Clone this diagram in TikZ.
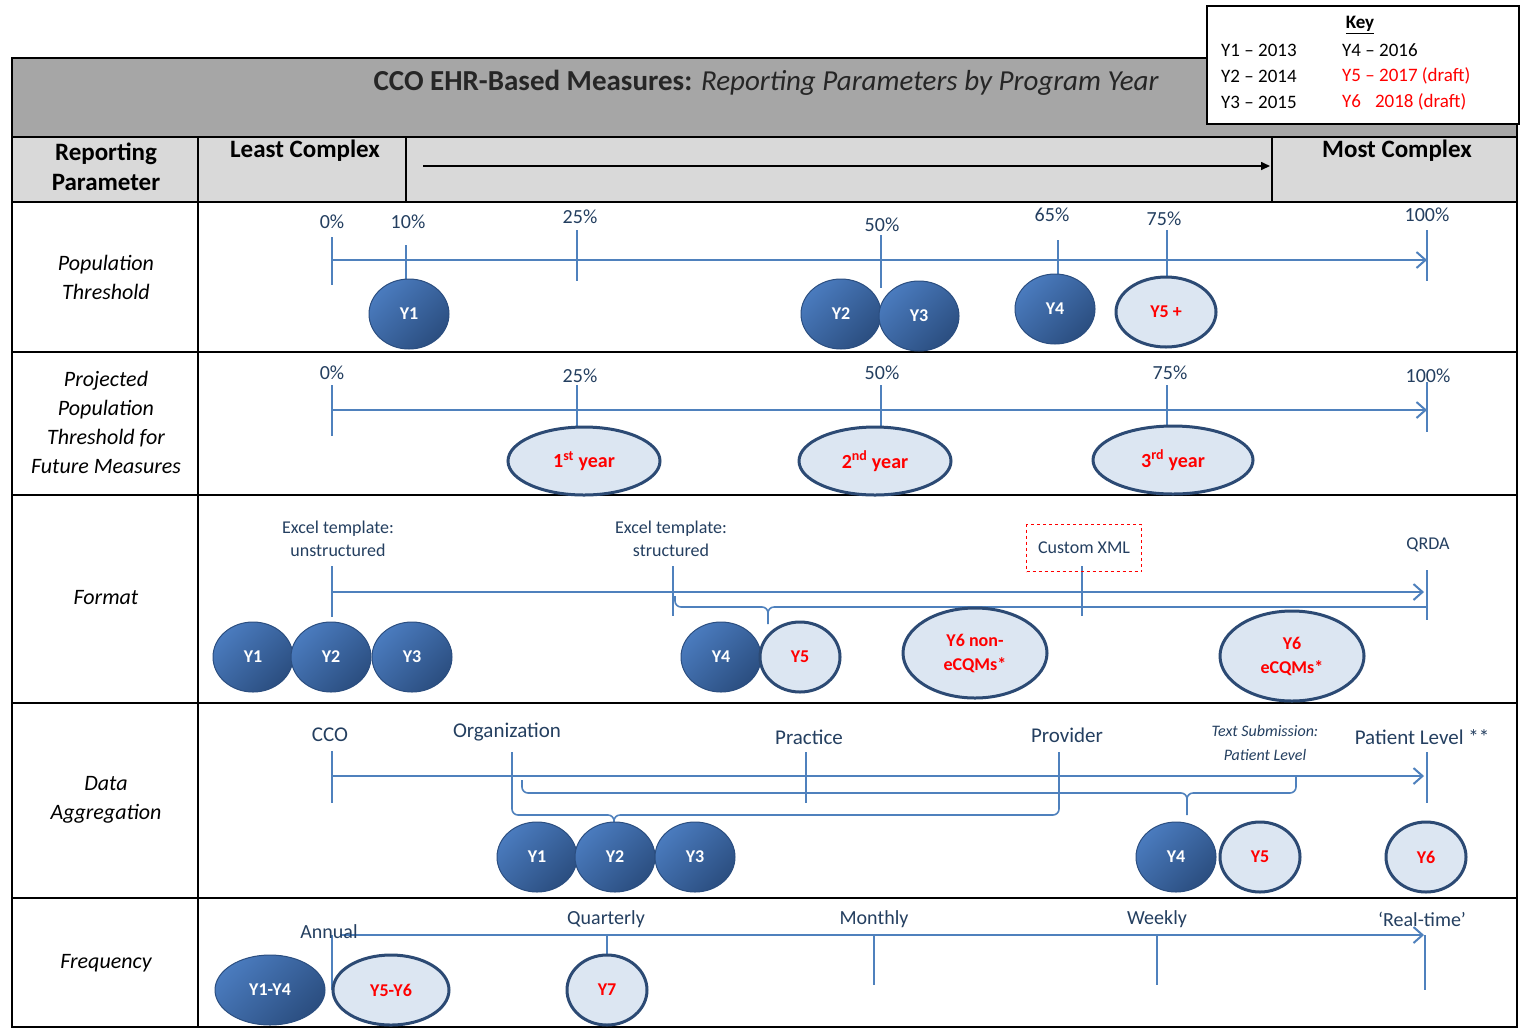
\documentclass[tikz,border=0pt]{standalone}
\usepackage{fontspec}
\setmainfont{Carlito}
\usetikzlibrary{shapes.geometric,arrows.meta}
\definecolor{axisblue}{HTML}{4F81BD}
\definecolor{navy}{HTML}{243F60}
\definecolor{dkA}{HTML}{4A7BBE}
\definecolor{dkB}{HTML}{2B4E80}
\definecolor{ltfill}{HTML}{DCE6F2}
\definecolor{ltdraw}{HTML}{2C4A74}
\definecolor{titlegray}{HTML}{A6A6A6}
\definecolor{headgray}{HTML}{D9D9D9}
\newcommand\fsz[2]{\fontsize{#1}{#2}\selectfont}
\tikzset{
  axisline/.style={draw=axisblue, line width=2pt, -{Straight Barb[length=9pt,width=16pt,line width=2pt]}},
  tickline/.style={draw=axisblue, line width=1.6pt},
  brace/.style={draw=axisblue, line width=1.6pt, rounded corners=6pt},
  dk/.style={ellipse, minimum width=80, minimum height=70, inner sep=0pt,
     left color=dkA, right color=dkB, shading angle=45, draw=dkB, line width=1pt,
     text=white, font=\bfseries\fsz{18}{21}},
  lt/.style={ellipse, minimum width=80, minimum height=70, inner sep=0pt,
     fill=ltfill, draw=ltdraw, line width=3pt, text=red, font=\bfseries\fsz{18}{21}, align=center},
  lbl/.style={text=navy, font=\fsz{20}{24}, inner sep=1pt},
  small/.style={text=navy, font=\fsz{18}{23}, align=center, inner sep=1pt},
  rowlbl/.style={font=\itshape\fsz{22}{29}, align=center},
  hdr/.style={font=\bfseries\fsz{25}{30}, align=center},
  grid/.style={draw=black, line width=2pt},
  keytxt/.style={font=\fsz{19}{20}, anchor=west, inner sep=0pt}
}
\begin{document}
\begin{tikzpicture}[x=1pt,y=-1pt]
\useasboundingbox (0,0) rectangle (1522,1029);
\fill[white] (0,0) rectangle (1522,1029);
% table
\fill[titlegray] (12,58) rectangle (1517,137);
\fill[headgray] (12,137) rectangle (1517,202);
\draw[grid] (12,58) rectangle (1517,1027);
\draw[grid] (12,137) -- (1517,137);
\draw[grid] (12,202) -- (1517,202);
\draw[grid] (12,352) -- (1517,352);
\draw[grid] (12,495) -- (1517,495);
\draw[grid] (12,703) -- (1517,703);
\draw[grid] (12,898) -- (1517,898);
\draw[grid] (198,137) -- (198,1027);
\draw[grid] (406,137) -- (406,202);
\draw[grid] (1272,137) -- (1272,202);
% title
\node[font=\fsz{29}{32}, text=black!85] (title) at (766,83) {\bfseries CCO EHR-Based Measures: \mdseries\itshape Reporting Parameters by Program Year};
% header
\node[hdr] (rp) at (106,167) {Reporting\\Parameter};
\node[hdr] (least) at (305,151) {Least Complex};
\node[hdr] (most) at (1397,151) {Most Complex};
\coordinate (hs) at (423,166);
\coordinate (he) at (1270,166);
\draw[line width=1.6pt, -{Triangle[length=9pt,width=8pt]}] (hs) -- (he);
% key
\draw[fill=white, line width=2pt] (1207,6) rectangle (1519,124);
\node[font=\bfseries\fsz{19}{20}, inner sep=0pt] (key) at (1360,25) {\underline{Key}};
\node[keytxt] (k1) at (1221,50) {Y1 -- 2013};
\node[keytxt] (k2) at (1221,76) {Y2 -- 2014};
\node[keytxt] (k3) at (1221,102) {Y3 -- 2015};
\node[keytxt] (k4) at (1342,50) {Y4 -- 2016};
\node[keytxt, text=red] (k5) at (1342,76) {Y5 -- 2017 (draft)};
\node[keytxt, text=red] (k6) at (1342,102) {Y6\hspace{14pt}2018 (draft)};
% row labels
\node[rowlbl] (r1) at (106,277) {Population\\Threshold};
\node[rowlbl] (r2) at (106,422) {Projected\\Population\\Threshold for\\Future Measures};
\node[rowlbl] (r3) at (106,598) {Format};
\node[rowlbl] (r4) at (106,800) {Data\\Aggregation};
\node[rowlbl] (r5) at (106,963) {Frequency};

% ---------- Row 1 ----------
\coordinate (a1s) at (332,260); \coordinate (a1e) at (1427,260);
\draw[axisline] (a1s) -- (a1e);
\draw[tickline] (332,237) -- (332,285);
\draw[tickline] (406,245) -- (406,279);
\draw[tickline] (577,230) -- (577,281);
\draw[tickline] (881,235) -- (881,288);
\draw[tickline] (1058,240) -- (1058,274);
\draw[tickline] (1167,230) -- (1167,278);
\draw[tickline] (1427,230) -- (1427,281);
\node[lbl] (l10) at (332,222) {0\%};
\node[lbl] (l11) at (408,222) {10\%};
\node[lbl] (l12) at (580,217) {25\%};
\node[lbl] (l13) at (882,225) {50\%};
\node[lbl] (l14) at (1052,215) {65\%};
\node[lbl] (l15) at (1164,219) {75\%};
\node[lbl] (l16) at (1427,215) {100\%};
\node[dk] (p1) at (409,314) {Y1};
\node[dk] (p2) at (841,314) {Y2};
\node[dk] (p3) at (919,316) {Y3};
\node[dk] (p4) at (1055,309) {Y4};
\node[lt, minimum width=100, minimum height=70] (p5) at (1166,312) {Y5 +};

% ---------- Row 2 ----------
\coordinate (a2s) at (332,410); \coordinate (a2e) at (1427,410);
\draw[axisline] (a2s) -- (a2e);
\draw[tickline] (332,385) -- (332,436);
\draw[tickline] (577,385) -- (577,427);
\draw[tickline] (881,385) -- (881,427);
\draw[tickline] (1167,385) -- (1167,427);
\draw[tickline] (1427,382) -- (1427,432);
\node[lbl] (l20) at (332,373) {0\%};
\node[lbl] (l21) at (580,376) {25\%};
\node[lbl] (l22) at (882,373) {50\%};
\node[lbl] (l23) at (1170,373) {75\%};
\node[lbl] (l24) at (1428,376) {100\%};
\node[lt, minimum width=152, minimum height=68, font=\bfseries\fsz{20}{22}] (y1st) at (584,461) {1\textsuperscript{st} year};
\node[lt, minimum width=152, minimum height=68, font=\bfseries\fsz{20}{22}] (y2nd) at (875,461) {2\textsuperscript{nd} year};
\node[lt, minimum width=160, minimum height=68, font=\bfseries\fsz{20}{22}] (y3rd) at (1173,460) {3\textsuperscript{rd} year};

% ---------- Row 3 Format ----------
\coordinate (a3s) at (332,592); \coordinate (a3e) at (1424,592);
\draw[axisline] (a3s) -- (a3e);
\draw[tickline] (332,566) -- (332,617);
\draw[tickline] (673,566) -- (673,616);
\draw[tickline] (1082,566) -- (1082,616);
\draw[tickline] (1427,570) -- (1427,620);
\draw[brace] (675,596) -- (675,607) -- (768,607) -- (768,624);
\draw[brace] (768,616) -- (768,607) -- (1427,607);
\node[small] (f1) at (338,539) {Excel template:\\unstructured};
\node[small] (f2) at (671,539) {Excel template:\\structured};
\node[small, draw=red, dashed, line width=1.5pt, minimum width=115, minimum height=47] (f3) at (1084,548) {Custom XML};
\node[small] (f4) at (1428,545) {QRDA};
\node[dk] (q1) at (253,657) {Y1};
\node[dk] (q2) at (331,657) {Y2};
\node[dk] (q3) at (412,657) {Y3};
\node[dk] (q4) at (721,657) {Y4};
\node[lt] (q5) at (800,657) {Y5};
\node[lt, minimum width=144, minimum height=90, font=\bfseries\fsz{18}{24}] (q6) at (975,653) {Y6 non-\\eCQMs*};
\node[lt, minimum width=144, minimum height=90, font=\bfseries\fsz{18}{24}] (q7) at (1292,656) {Y6\\eCQMs*};

% ---------- Row 4 Data Aggregation ----------
\coordinate (a4s) at (332,776); \coordinate (a4e) at (1424,776);
\draw[axisline] (a4s) -- (a4e);
\draw[tickline] (332,751) -- (332,803);
\draw[tickline] (512,752) -- (512,790);
\draw[tickline] (806,752) -- (806,803);
\draw[tickline] (1059,752) -- (1059,790);
\draw[tickline] (1427,752) -- (1427,803);
\draw[brace] (522,780) -- (522,793) -- (1187,793) -- (1187,815);
\draw[brace] (1187,805) -- (1187,793) -- (1296,793) -- (1296,776);
\draw[brace] (512,786) -- (512,815) -- (614,815) -- (614,826);
\draw[brace] (614,822) -- (614,815) -- (1059,815) -- (1059,786);
\node[lbl, font=\fsz{21}{24}] (d1) at (330,735) {CCO};
\node[lbl, font=\fsz{21}{24}] (d2) at (507,732) {Organization};
\node[lbl, font=\fsz{21}{24}] (d3) at (809,737) {Practice};
\node[lbl, font=\fsz{21}{24}] (d4) at (1067,735) {Provider};
\node[text=navy, font=\itshape\fsz{16}{24}, align=center] (d5) at (1265,743) {Text Submission:\\Patient Level};
\node[lbl, font=\fsz{21}{24}] (d6) at (1422,737) {Patient Level **};
\node[dk] (s1) at (537,857) {Y1};
\node[dk] (s2) at (615,857) {Y2};
\node[dk] (s3) at (695,857) {Y3};
\node[dk] (s4) at (1176,857) {Y4};
\node[lt] (s5) at (1260,857) {Y5};
\node[lt] (s6) at (1426,857) {Y6};

% ---------- Row 5 Frequency ----------
\coordinate (a5s) at (340,935); \coordinate (a5e) at (1424,935);
\draw[axisline] (a5s) -- (a5e);
\draw[tickline] (332,935) -- (332,990);
\draw[tickline] (607,935) -- (607,956);
\draw[tickline] (874,935) -- (874,985);
\draw[tickline] (1157,935) -- (1157,985);
\draw[tickline] (1425,935) -- (1425,990);
\node[lbl] (e1) at (329,932) {Annual};
\node[lbl] (e2) at (606,919) {Quarterly};
\node[lbl] (e3) at (874,919) {Monthly};
\node[lbl] (e4) at (1157,919) {Weekly};
\node[lbl] (e5) at (1422,919) {`Real-time'};
\node[dk, minimum width=110] (t1) at (270,990) {Y1-Y4};
\node[lt, minimum width=116] (t2) at (391,990) {Y5-Y6};
\node[lt] (t3) at (607,990) {Y7};
\end{tikzpicture}
\end{document}
